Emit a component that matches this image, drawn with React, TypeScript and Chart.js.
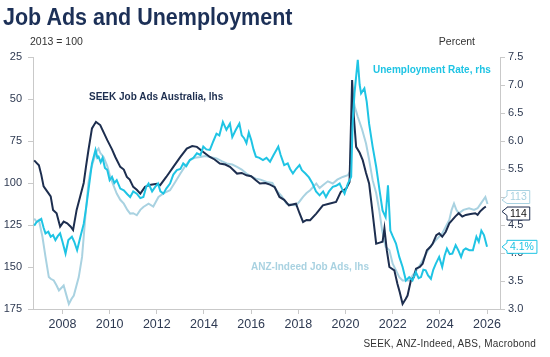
import React, { useEffect, useRef } from "react";
import { Chart, registerables } from "chart.js";

Chart.register(...registerables);

// ---------- DATA ----------
const seekDates = [
  2006.8, 2006.9, 2007.0, 2007.1, 2007.2, 2007.35, 2007.5, 2007.6, 2007.75, 2007.9,
  2008.05, 2008.2, 2008.35, 2008.45, 2008.6, 2008.75, 2008.9, 2009.0, 2009.1, 2009.25,
  2009.42, 2009.6, 2009.75, 2009.9, 2010.1, 2010.24, 2010.45, 2010.6, 2010.73, 2010.85,
  2011.0, 2011.15, 2011.3, 2011.5, 2011.75, 2012.0, 2012.14, 2012.4, 2012.7, 2013.0,
  2013.27, 2013.5, 2013.7, 2013.97, 2014.25, 2014.45, 2014.67, 2014.9, 2015.1, 2015.4,
  2015.6, 2015.8, 2016.0, 2016.2, 2016.37, 2016.6, 2016.8, 2017.0, 2017.2, 2017.4,
  2017.6, 2017.9, 2018.05, 2018.2, 2018.35, 2018.5, 2018.76, 2019.04, 2019.3, 2019.6,
  2019.8, 2020.03, 2020.17, 2020.28, 2020.35, 2020.45, 2020.6, 2020.73, 2020.87, 2021.0,
  2021.15, 2021.3, 2021.45, 2021.57, 2021.65, 2021.75, 2021.86, 2022.07, 2022.2, 2022.3,
  2022.42, 2022.55, 2022.63, 2022.77, 2022.9, 2022.99, 2023.15, 2023.27, 2023.45, 2023.6,
  2023.7, 2023.85, 2023.97, 2024.1, 2024.25, 2024.4, 2024.53, 2024.65, 2024.8, 2024.95,
  2025.1, 2025.3, 2025.5, 2025.6, 2025.7, 2025.85, 2025.95,
];
const seekValues = [
  86.5, 88, 89.5, 95, 102, 105, 108, 116, 118, 126,
  123, 124, 126, 128, 116, 108, 100, 90, 80.5, 67.5,
  63.6, 65.5, 70, 74.5, 80, 84.5, 90.4, 92, 96.4, 98,
  102.3, 104, 106.3, 102.3, 101, 100.5, 101.3, 96.4, 90.4, 84.5,
  79.5, 78, 78.5, 81.5, 84.5, 86, 88.4, 89, 90.4, 94.4,
  94, 95.4, 96, 98.4, 100.3, 100, 101, 102.5, 108.3, 110,
  113.3, 112.3, 118, 123.2, 122, 122.2, 118.2, 113.3, 112.3, 111.3,
  105.3, 103.3, 99.4, 38.7, 60, 78.5, 82, 86.4, 94, 100.3,
  118, 136.1, 135.5, 135, 127, 140, 150, 152, 160, 165,
  172, 169, 167, 158, 156, 151, 150, 148, 140, 138,
  136, 131, 130, 132, 129, 124, 122, 120, 118, 120,
  119, 118.5, 118, 119, 117, 115, 114,
];

const anzDates = [
  2006.8, 2006.9, 2007.0, 2007.15, 2007.28, 2007.42, 2007.5, 2007.63, 2007.75, 2007.85,
  2008.05, 2008.15, 2008.27, 2008.38, 2008.48, 2008.69, 2008.83, 2008.97, 2009.1, 2009.2,
  2009.32, 2009.45, 2009.53, 2009.6, 2009.74, 2009.9, 2010.03, 2010.15, 2010.3, 2010.45,
  2010.6, 2010.75, 2010.87, 2011.0, 2011.15, 2011.3, 2011.43, 2011.65, 2011.85, 2012.07,
  2012.3, 2012.56, 2012.8, 2013.0, 2013.2, 2013.4, 2013.6, 2013.85, 2014.05, 2014.25,
  2014.53, 2014.75, 2014.96, 2015.2, 2015.4, 2015.6, 2015.8, 2016.0, 2016.2, 2016.4,
  2016.65, 2016.9, 2017.07, 2017.3, 2017.5, 2017.7, 2017.9, 2018.05, 2018.2, 2018.35,
  2018.5, 2018.65, 2018.76, 2018.9, 2019.04, 2019.25, 2019.46, 2019.65, 2019.88, 2020.1,
  2020.2, 2020.3, 2020.4, 2020.52, 2020.7, 2020.87, 2021.0, 2021.15, 2021.3, 2021.43,
  2021.55, 2021.7, 2021.86, 2022.0, 2022.14, 2022.28, 2022.42, 2022.7, 2022.85, 2023.0,
  2023.15, 2023.27, 2023.5, 2023.7, 2023.9, 2024.1, 2024.25, 2024.4, 2024.5, 2024.6,
  2024.7, 2024.8, 2025.0, 2025.24, 2025.45, 2025.6, 2025.75, 2025.93, 2026.02,
];
const anzValues = [
  121.2, 123, 122, 132, 144, 156, 157, 158, 161, 164,
  161, 166, 172, 169, 167, 156, 144, 120, 100, 92,
  86.4, 81, 79.5, 82, 84.5, 90, 96.4, 101, 106.3, 110,
  112.3, 116, 118.2, 118, 119.2, 116, 114.3, 112.3, 114, 108.3,
  106, 104.3, 99, 94.4, 90, 86.4, 85, 84.5, 84, 84.5,
  85.4, 87, 88.4, 89, 90.4, 92, 94.4, 96, 97.4, 98,
  99.4, 100, 104.3, 108, 112.3, 113, 113.3, 111, 108.3, 106,
  104.3, 102, 100.3, 103, 101.3, 99, 100.3, 98, 96.4, 95.4,
  93, 47.7, 55, 60.6, 68, 76.5, 86, 98.3, 106, 116.2,
  128, 138, 140, 148, 152, 156, 158, 158, 155, 152,
  149, 146, 140, 136, 133, 130, 126, 122, 116, 112.3,
  116, 118, 116, 115, 116, 115, 112, 108.3, 112.5,
];

const urDates = [
  2006.8, 2006.9, 2007.0, 2007.1, 2007.2, 2007.28, 2007.4, 2007.5, 2007.6, 2007.7,
  2007.8, 2007.9, 2008.0, 2008.13, 2008.25, 2008.4, 2008.5, 2008.62, 2008.76, 2008.9,
  2009.0, 2009.1, 2009.25, 2009.4, 2009.48, 2009.53, 2009.62, 2009.7, 2009.8, 2009.9,
  2010.0, 2010.1, 2010.2, 2010.3, 2010.45, 2010.6, 2010.75, 2010.87, 2011.0, 2011.15,
  2011.3, 2011.43, 2011.55, 2011.65, 2011.8, 2011.93, 2012.05, 2012.15, 2012.28, 2012.4,
  2012.56, 2012.7, 2012.85, 2013.0, 2013.12, 2013.25, 2013.4, 2013.55, 2013.7, 2013.85,
  2013.97, 2014.1, 2014.25, 2014.4, 2014.53, 2014.65, 2014.8, 2014.95, 2015.1, 2015.2,
  2015.35, 2015.5, 2015.6, 2015.7, 2015.8, 2015.9, 2016.0, 2016.1, 2016.2, 2016.35,
  2016.5, 2016.65, 2016.8, 2016.95, 2017.07, 2017.15, 2017.25, 2017.4, 2017.55, 2017.65,
  2017.77, 2017.9, 2018.05, 2018.15, 2018.3, 2018.45, 2018.6, 2018.75, 2018.9, 2019.05,
  2019.17, 2019.3, 2019.46, 2019.6, 2019.75, 2019.85, 2019.96, 2020.1, 2020.24, 2020.3,
  2020.38, 2020.52, 2020.6, 2020.66, 2020.8, 2020.9, 2021.0, 2021.15, 2021.3, 2021.45,
  2021.57, 2021.7, 2021.8, 2021.9, 2022.0, 2022.14, 2022.28, 2022.42, 2022.56, 2022.7,
  2022.84, 2022.98, 2023.1, 2023.2, 2023.3, 2023.4, 2023.5, 2023.62, 2023.72, 2023.83,
  2023.97, 2024.1, 2024.2, 2024.3, 2024.42, 2024.53, 2024.67, 2024.78, 2024.9, 2025.0,
  2025.1, 2025.25, 2025.4, 2025.55, 2025.65, 2025.76, 2025.87, 2026.0,
];
const urValues = [
  4.49, 4.55, 4.58, 4.61, 4.45, 4.35, 4.38, 4.29, 4.32, 4.23,
  4.3, 4.35, 4.2, 3.99, 4.23, 4.29, 4.2, 4.05, 4.29, 4.52,
  4.8, 5.12, 5.6, 5.84, 5.7, 5.72, 5.62, 5.7, 5.52, 5.48,
  5.3, 5.36, 5.25, 5.3, 5.15, 5.12, 5.05, 5.0, 5.1, 5.06,
  4.98, 5.0, 5.18, 5.24, 5.1, 5.18, 5.24, 5.1, 5.06, 5.15,
  5.24, 5.4, 5.48, 5.5, 5.6, 5.55, 5.66, 5.7, 5.78, 5.75,
  5.9, 5.85, 5.84, 6.0, 6.13, 6.1, 6.34, 6.2, 6.31, 6.07,
  6.2, 6.31, 6.1, 6.05, 5.96, 6.15, 6.02, 5.85, 5.72, 5.7,
  5.66, 5.7, 5.63, 5.75, 5.84, 5.9, 5.75, 5.57, 5.6, 5.5,
  5.42, 5.5, 5.57, 5.48, 5.42, 5.35, 5.24, 5.1, 5.03, 5.1,
  5.0, 5.1, 5.18, 5.2, 5.24, 5.15, 5.06, 5.24, 5.36, 6.3,
  6.85, 7.45, 7.0, 6.85, 6.94, 6.7, 6.31, 5.9, 5.54, 5.1,
  4.76, 4.64, 5.21, 4.4, 4.3, 4.17, 3.93, 3.75, 3.51, 3.57,
  3.51, 3.66, 3.55, 3.57, 3.7, 3.69, 3.6, 3.54, 3.7, 3.81,
  3.93, 3.75, 3.95, 4.08, 3.98, 3.99, 4.14, 4.05, 3.93, 4.05,
  4.08, 4.05, 4.05, 4.29, 4.2, 4.4, 4.32, 4.11,
];

const xTickYears = [2008, 2010, 2012, 2014, 2016, 2018, 2020, 2022, 2024, 2026];
const leftRange = [25, 175];
const leftStep = 25;
const rightRange = [3, 7.5];
const rightStep = 0.5;

const seriesNames = [
  "SEEK Job Ads Australia, lhs",
  "ANZ-Indeed Job Ads, lhs",
  "Unemployment Rate, rhs",
];

// ---------- STYLE ----------
const NAVY = "#1d2e4f";
const LIGHT = "#a9d2e1";
const CYAN = "#1fc4e4";
const FONT = "'Liberation Sans', Arial, sans-serif";
const AXIS = "#c9c9c9";
const TXT = "#2e3a52";

const toXY = (xs: number[], ys: number[]) => xs.map((x, i) => ({ x, y: ys[i] }));

export default function App() {
  const ref = useRef<HTMLCanvasElement>(null);

  useEffect(() => {
    document.body.style.margin = "0";
    const canvas = ref.current;
    if (!canvas) return;

    const endLabels = {
      id: "endLabels",
      afterDatasetsDraw(chart: any) {
        const ctx = chart.ctx;
        const items = [
          {
            val: anzValues[anzValues.length - 1],
            axis: "y",
            text: String(Math.round(anzValues[anzValues.length - 1])),
            border: LIGHT,
            color: LIGHT,
            dy: -7,
            tip: 3,
          },
          {
            val: seekValues[seekValues.length - 1],
            axis: "y",
            text: String(Math.round(seekValues[seekValues.length - 1])),
            border: NAVY,
            color: "#111",
            dy: 7,
            tip: -2,
          },
          {
            val: urValues[urValues.length - 1],
            axis: "y1",
            text: urValues[urValues.length - 1].toFixed(1) + "%",
            border: CYAN,
            color: CYAN,
            dy: 0,
            tip: 0,
          },
        ];
        const x0 = chart.chartArea.right + 2;
        ctx.save();
        ctx.font = `10.5px ${FONT}`;
        ctx.textBaseline = "middle";
        ctx.textAlign = "left";
        items.forEach((it) => {
          const cy = chart.scales[it.axis].getPixelForValue(it.val) + it.dy;
          const w = ctx.measureText(it.text).width + 6;
          const h = 13;
          const bx = x0 + 5;
          const top = cy - h / 2;
          const ty = cy + it.tip;
          ctx.beginPath();
          ctx.moveTo(bx, top);
          ctx.lineTo(bx + w, top);
          ctx.lineTo(bx + w, top + h);
          ctx.lineTo(bx, top + h);
          ctx.lineTo(bx, Math.min(top + h, ty + 4));
          ctx.lineTo(x0, ty);
          ctx.lineTo(bx, Math.max(top, ty - 4));
          ctx.closePath();
          ctx.fillStyle = "#fff";
          ctx.fill();
          ctx.strokeStyle = it.border;
          ctx.lineWidth = 1;
          ctx.stroke();
          ctx.fillStyle = it.color;
          ctx.fillText(it.text, bx + 3, cy + 0.5);
        });
        ctx.restore();
      },
    };

    const chart = new Chart(canvas, {
      type: "line",
      data: {
        datasets: [
          {
            label: seriesNames[2],
            data: toXY(urDates, urValues),
            yAxisID: "y1",
            borderColor: CYAN,
            borderWidth: 2,
            pointRadius: 0,
            order: 0,
          },
          {
            label: seriesNames[0],
            data: toXY(seekDates, seekValues),
            yAxisID: "y",
            borderColor: NAVY,
            borderWidth: 2,
            pointRadius: 0,
            order: 1,
          },
          {
            label: seriesNames[1],
            data: toXY(anzDates, anzValues),
            yAxisID: "y",
            borderColor: LIGHT,
            borderWidth: 2,
            pointRadius: 0,
            order: 2,
          },
        ],
      },
      options: {
        animation: false,
        responsive: false,
        maintainAspectRatio: false,
        devicePixelRatio: 1,
        layout: { padding: { top: 57, left: 0, right: 0, bottom: 0 } },
        plugins: { legend: { display: false }, tooltip: { enabled: false } },
        scales: {
          x: {
            type: "linear",
            min: 2006.75,
            max: 2026.55,
            afterBuildTicks: (s: any) => {
              s.ticks = xTickYears.map((v) => ({ value: v }));
            },
            afterFit: (s: any) => {
              s.height = 48;
            },
            ticks: {
              autoSkip: false,
              maxRotation: 0,
              padding: 3,
              color: TXT,
              font: { size: 12.5, family: FONT },
              callback: (v: any) => String(v),
            },
            grid: { drawOnChartArea: false, tickLength: 5, color: AXIS },
            border: { color: AXIS },
          },
          y: {
            position: "left",
            reverse: true,
            min: leftRange[0],
            max: leftRange[1],
            afterFit: (s: any) => {
              s.width = 33;
            },
            ticks: {
              stepSize: leftStep,
              padding: 6,
              color: TXT,
              font: { size: 11, family: FONT },
            },
            grid: { drawOnChartArea: false, tickLength: 5, color: AXIS },
            border: { color: AXIS },
          },
          y1: {
            position: "right",
            min: rightRange[0],
            max: rightRange[1],
            afterFit: (s: any) => {
              s.width = 50;
            },
            ticks: {
              stepSize: rightStep,
              padding: 3,
              color: TXT,
              font: { size: 11, family: FONT },
              callback: (v: any) => Number(v).toFixed(1),
            },
            grid: { drawOnChartArea: false, tickLength: 5, color: AXIS },
            border: { color: AXIS },
          },
        },
      },
      plugins: [endLabels],
    } as any);

    return () => chart.destroy();
  }, []);

  const abs = (s: React.CSSProperties): React.CSSProperties => ({
    position: "absolute",
    whiteSpace: "nowrap",
    fontFamily: FONT,
    lineHeight: 1,
    ...s,
  });

  return (
    <div style={{ position: "relative", width: 550, height: 357, background: "#fff", overflow: "hidden" }}>
      <canvas ref={ref} width={550} height={357} style={{ position: "absolute", left: 0, top: 0, width: 550, height: 357 }} />
      <div
        style={abs({
          left: 3,
          top: 6,
          fontSize: 21.5,
          fontWeight: "bold",
          color: "#1c3057",
          transform: "scale(1, 1.1)",
          transformOrigin: "0 0",
        })}
      >
        Job Ads and Unemployment
      </div>
      <div style={abs({ left: 30, top: 36, fontSize: 10.5, color: "#333" })}>2013 = 100</div>
      <div style={abs({ right: 75, top: 36, fontSize: 10.5, color: "#333" })}>Percent</div>
      <div style={abs({ left: 89, top: 92, fontSize: 10, fontWeight: "bold", color: NAVY })}>{seriesNames[0]}</div>
      <div style={abs({ left: 373, top: 65, fontSize: 10, fontWeight: "bold", color: CYAN })}>{seriesNames[2]}</div>
      <div style={abs({ left: 251, top: 262, fontSize: 10, fontWeight: "bold", color: LIGHT })}>{seriesNames[1]}</div>
      <div style={abs({ right: 14, top: 339, fontSize: 10, color: "#333", letterSpacing: 0.2 })}>
        SEEK, ANZ-Indeed, ABS, Macrobond
      </div>
    </div>
  );
}
